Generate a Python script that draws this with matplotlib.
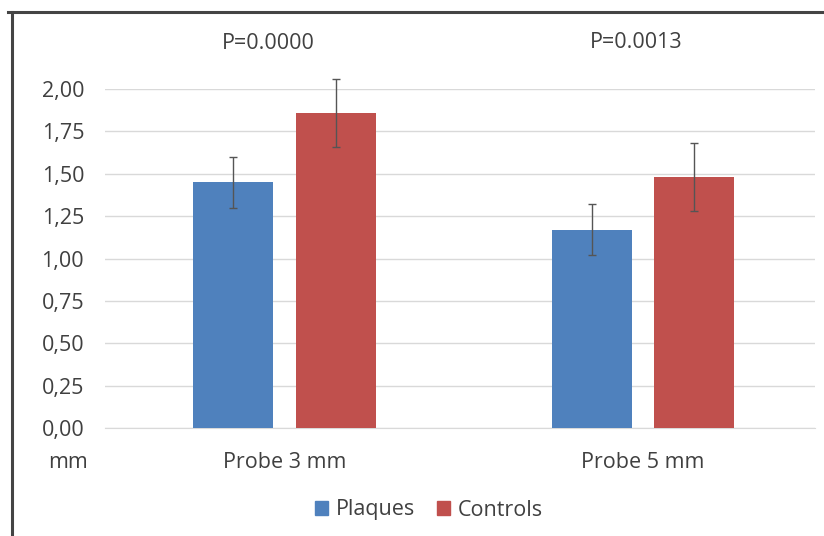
import matplotlib
matplotlib.use("Agg")
import matplotlib.pyplot as plt
from matplotlib.lines import Line2D
from matplotlib.ticker import FuncFormatter
import numpy as np

categories = ["Probe 3 mm", "Probe 5 mm"]
series_names = ["Plaques", "Controls"]
plaques = [1.45, 1.17]
plaques_err = [0.15, 0.15]
controls = [1.86, 1.48]
controls_err = [0.20, 0.20]
p_labels = ["P=0.0000", "P=0.0013"]
yticks = [0.0, 0.25, 0.5, 0.75, 1.0, 1.25, 1.5, 1.75, 2.0]

plt.rcParams['font.family'] = ['Open Sans', 'DejaVu Sans']
FS = 15.5
TC = "#404040"

fig = plt.figure(figsize=(8.24, 5.36), dpi=100)
ax = fig.add_axes([105/824, 1-428/536, (815-105)/824, (428-89)/536])

x = np.arange(len(categories))
w = 0.223
off = 0.143
blue = "#4F81BD"
red = "#C0504D"
ekw = dict(ecolor="#555555", elinewidth=1.0, capsize=3, capthick=1.0)
ax.bar(x - off, plaques, w, color=blue, label=series_names[0], zorder=3,
       yerr=plaques_err, error_kw=dict(ekw, zorder=4, clip_on=False))
ax.bar(x + off, controls, w, color=red, label=series_names[1], zorder=3,
       yerr=controls_err, error_kw=dict(ekw, zorder=4, clip_on=False))

ax.set_xlim(-0.5, len(categories) - 0.5 - 0.02)
ax.set_ylim(0, 2.0)
ax.set_yticks(yticks)
ax.yaxis.set_major_formatter(FuncFormatter(lambda v, p: f"{v:.2f}".replace(".", ",")))
ax.grid(axis="y", color="#d9d9d9", linewidth=1.0, zorder=0)
for s in ["top", "right", "left"]:
    ax.spines[s].set_visible(False)
ax.spines["bottom"].set_color("#d9d9d9")
ax.spines["bottom"].set_zorder(1)
ax.set_xticks(x)
ax.set_xticklabels(categories)
ax.tick_params(axis="x", length=0, pad=17, labelsize=FS, labelcolor=TC)
ax.tick_params(axis="y", length=0, pad=15, labelsize=FS, labelcolor=TC)

ax.text(-0.5 - (105 - 68)/359, -34/169.5, "mm", ha="center", va="center",
        fontsize=FS, color=TC, clip_on=False)

p_x = [-0.045, 0.98]
p_y = [2.27, 2.277]
for px, py, lab in zip(p_x, p_y, p_labels):
    ax.text(px, py, lab, ha="center", va="center", fontsize=FS,
            color=TC, clip_on=False)

handles = [plt.Rectangle((0, 0), 1, 1, color=blue), plt.Rectangle((0, 0), 1, 1, color=red)]
fig.legend(handles, series_names, loc="center", bbox_to_anchor=(429/824, 1-510/536),
           ncol=2, frameon=False, handlelength=0.6, handleheight=0.6,
           handletextpad=0.36, columnspacing=1.0, fontsize=FS, labelcolor=TC)

fig.add_artist(Line2D([8/824, 1], [1-12/536, 1-12/536], transform=fig.transFigure,
                      color="#444444", linewidth=2.2))
fig.add_artist(Line2D([11.5/824, 11.5/824], [0, 1-12/536], transform=fig.transFigure,
                      color="#444444", linewidth=2.2))

fig.savefig("out.png", dpi=100)
